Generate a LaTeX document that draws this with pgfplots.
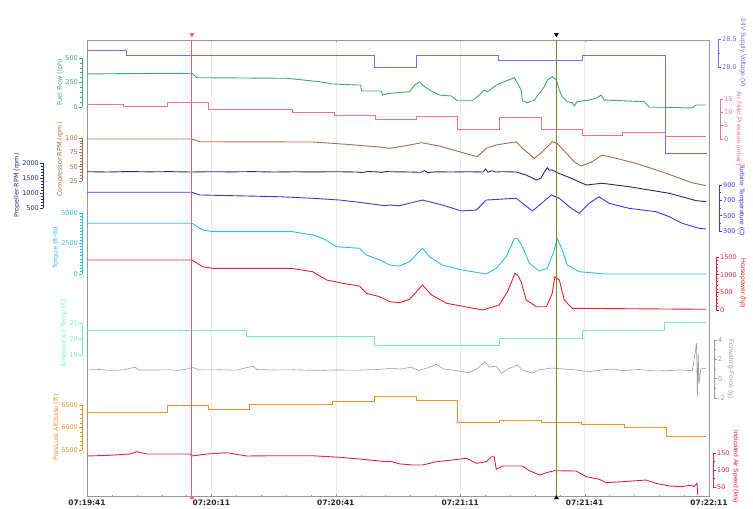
\documentclass[border=0pt]{standalone}
\usepackage{fontspec}
\setmainfont{DejaVu Sans}
\newfontfamily\narrowfam{Liberation Sans}
\usepackage{pgfplots}
\pgfplotsset{compat=1.18}
\definecolor{cVolt}{RGB}{120,105,230}
\definecolor{cFuel}{RGB}{60,170,110}
\definecolor{cAirF}{RGB}{240,110,160}
\definecolor{cComp}{RGB}{170,105,75}
\definecolor{cProp}{RGB}{40,40,120}
\definecolor{cTurb}{RGB}{70,50,220}
\definecolor{cTorq}{RGB}{40,190,230}
\definecolor{cHP}{RGB}{235,30,50}
\definecolor{cAmb}{RGB}{120,235,205}
\definecolor{cG}{RGB}{155,155,155}
\definecolor{cPA}{RGB}{245,140,30}
\definecolor{cIAS}{RGB}{230,30,70}
\definecolor{cCurR}{RGB}{240,90,120}
\definecolor{cCurG}{RGB}{130,130,40}
\definecolor{cFrame}{RGB}{150,150,150}
\newcommand{\lblfont}{\fontsize{6.4}{7}\selectfont}
\newcommand{\rlblfont}{\narrowfam\fontsize{6.6}{7}\selectfont}
\pgfplotsset{
  dax/.style 2 args={at={(87pt,-#1pt)}, anchor=south west, scale only axis,
    width=622pt, height=#2pt, xmin=0, xmax=150, hide axis, clip=false},
  spbase/.style={scale only axis, width=4pt, xmin=0, xmax=1, axis x line=none,
    tick align=outside, major tick length=3pt, minor tick length=1.6pt,
    scaled y ticks=false, /pgf/number format/assume math mode=true,
    /pgf/number format/1000 sep={},
    tick label style={font=\fontsize{6.5}{7}\selectfont, inner sep=1pt},
    minor y tick num=4},
  ccol/.style={axis line style={-,#1}, tick style={#1, line width=0.5pt},
    tick label style={text=#1}, ylabel style={text=#1}},
  lsp/.style n args={3}{spbase, at={(#1pt,-#2pt)}, anchor=south west,
    height=#3pt, axis y line=left, tick align=outside,
    ylabel style={font=\lblfont, inner sep=1pt}},
  rsp/.style n args={3}{spbase, at={(#1pt,-#2pt)}, anchor=south east,
    height=#3pt, axis y line=right, tick align=outside,
    ylabel style={rotate=180, anchor=south, font=\rlblfont, inner sep=1.8pt}},
  lpos/.style={ylabel style={at={(ticklabel cs:#1)}}},
}
\begin{document}
\begin{tikzpicture}
\useasboundingbox (0,0) rectangle (753pt,-509pt);
% frame
\begin{axis}[at={(87pt,-496pt)}, anchor=south west, scale only axis,
  width=622pt, height=456pt, xmin=0, xmax=150, ymin=0, ymax=1,
  ytick=\empty, xtick={0,30,...,150},
  xticklabels={07:19:41,07:20:11,07:20:41,07:21:11,07:21:41,07:22:11},
  minor x tick num=4, major tick length=2pt, minor tick length=1.2pt,
  axis line style={cFrame}, tick style={cFrame},
  xmajorgrids, major grid style={black!8},
  xticklabel style={font=\bfseries\fontsize{7.5}{9}\selectfont, text=black!85}]
\end{axis}
% ---------- data ----------
\begin{axis}[dax={67}{28}, ymin=28.0, ymax=28.5]
\addplot[cVolt, const plot, line width=0.9pt] coordinates {(0,28.29) (9.4,28.20) (69.3,28.0) (79.5,28.20) (99.2,28.11) (119.4,28.20) (139.4,26.45) (149.5,26.45)};
\end{axis}
\begin{axis}[dax={107}{49}, ymin=0, ymax=500]
\addplot[cFuel, line width=0.9pt] coordinates {(0,337) (12,342) (25.3,344) (26.5,299) (48.2,293) (56.1,258) (59.2,235) (65.3,224) (66.0,224) (66.2,163) (71.0,163) (71.3,122) (73.0,140) (77.8,156) (79.0,224) (80.2,258) (81.4,207) (83.3,156) (85.0,122) (87.9,112) (89.3,64) (92.9,64) (94.6,122) (95.8,173) (96.6,156) (98.7,224) (100.6,258) (103.1,299) (103.8,242) (104.7,173) (105.0,64) (106.2,44) (107.9,71) (109.1,140) (110.3,207) (111.0,275) (112.2,309) (113.2,275) (113.9,173) (114.6,105) (115.8,54) (117.0,44) (117.5,10) (118.2,54) (121.1,71) (122.8,89) (124.0,122) (124.7,71) (129.1,64) (133.2,56) (134.4,54) (135.1,20) (135.6,-3) (139.7,-3) (145.9,-10) (146.9,20) (149.3,20)};
\end{axis}
\begin{axis}[dax={139}{40}, ymin=0, ymax=15]
\addplot[cAirF, const plot, line width=0.9pt] coordinates {(0,13.1) (8.7,12.1) (19.3,13.8) (29.4,11.2) (49.6,10.0) (59.7,9.0) (69.6,7.4) (79.5,8.6) (89.3,3.4) (99.4,8.0) (109.6,3.7) (119.4,1.5) (129.1,2.4) (139.4,1.1) (149.3,1.1)};
\end{axis}
\begin{axis}[dax={181}{43}, ymin=25, ymax=100]
\addplot[cComp, line width=0.9pt] coordinates {(0,98.3) (25.3,98.3) (27.2,93.5) (54.4,93.0) (62.6,89.0) (66.5,86.6) (71.3,83.8) (73.0,82.0) (77.8,87.8) (80.7,91.8) (85.0,86.0) (89.8,76.1) (94.1,67.4) (96.3,82.0) (98.7,87.8) (103.5,93.5) (105.0,82.0) (107.9,64.6) (109.8,76.1) (112.2,93.5) (113.4,90.7) (115.6,73.3) (117.5,58.6) (119.2,51.1) (121.8,58.6) (124.2,70.3) (127.6,64.6) (132.4,55.8) (139.7,38.4) (145.9,22.0) (149.3,16.8)};
\end{axis}
\begin{axis}[dax={208}{45}, ymin=500, ymax=2000]
\addplot[cProp, line width=0.9pt] coordinates {(0,1710) (5,1700) (10,1715) (15,1705) (20,1712) (25,1700) (30,1710) (35,1705) (40,1712) (45,1700) (50,1708) (55,1703) (60,1710) (65,1700) (66.5,1680) (67.5,1715) (70,1705) (71.0,1685) (72.0,1712) (75,1705) (78,1700) (80.5,1690) (81.4,1745) (82.2,1680) (84,1705) (88,1700) (92,1710) (95.5,1700) (96.1,1800) (96.7,1690) (97.6,1740) (98.6,1700) (100,1710) (103.5,1700) (105.9,1600) (108.4,1434) (109.5,1500) (110.3,1700) (111.0,1843) (111.5,1760) (112.2,1767) (113.4,1677) (116.8,1490) (120.4,1267) (124.2,1324) (130.7,1211) (140.4,991) (146.9,745) (149.3,711)};
\end{axis}
\begin{axis}[dax={231}{46}, ymin=300, ymax=900]
\addplot[cTurb, line width=0.9pt] coordinates {(0,805) (25.3,805) (27.2,770) (46.5,747) (54.4,727) (60.9,704) (66.5,669) (71.8,630) (73.0,639) (75.4,630) (80.9,704) (85.7,639) (90.3,561) (93.9,574) (96.3,704) (103.5,727) (107.4,561) (109.6,661) (112.0,770) (113.9,727) (116.8,596) (118.7,531) (121.1,661) (123.5,747) (125.9,661) (130.7,596) (137.2,552) (140.4,487) (143.5,401) (147.6,335) (149.3,326)};
\end{axis}
\begin{axis}[dax={274}{61}, ymin=0, ymax=5000]
\addplot[cTorq, line width=0.9pt] coordinates {(0,4157) (25.3,4157) (27.9,3608) (30.3,3469) (49.6,3469) (54.4,3198) (56.8,2927) (60.2,2239) (65.7,2107) (67.4,1558) (70.6,1148) (73.0,738) (75.4,656) (77.8,1009) (80.9,2107) (82.6,1419) (85.7,738) (90.5,328) (96.3,0) (98.7,467) (101.1,1419) (103.1,2927) (103.8,2927) (105.0,2239) (106.7,877) (109.1,246) (111.0,467) (112.7,1968) (113.4,2927) (114.6,1968) (115.8,738) (118.7,189) (125.2,0) (149.3,0)};
\end{axis}
\begin{axis}[dax={310}{53}, ymin=0, ymax=1500]
\addplot[cHP, line width=0.9pt] coordinates {(0,1415) (25.3,1415) (27.9,1225) (30.3,1180) (49.2,1180) (54.4,1084) (57.8,849) (62.6,736) (65.7,679) (67.4,473) (70.6,376) (73.0,235) (75.4,207) (77.8,303) (80.9,708) (83.1,425) (86.7,190) (95.4,0) (99.4,142) (101.4,518) (102.4,800) (103.2,1039) (103.8,1000) (104.7,801) (105.9,283) (108.4,93) (110.8,93) (112.2,473) (112.8,942) (113.5,880) (113.9,849) (115.1,283) (117.0,48) (149.3,20)};
\end{axis}
\begin{axis}[dax={355}{32}, ymin=19, ymax=21]
\addplot[cAmb, const plot, line width=0.9pt] coordinates {(0,20.56) (38.5,20.14) (69.3,19.58) (99.4,20.04) (119.4,20.52) (139.2,21.02) (149.3,21.02)};
\end{axis}
\begin{axis}[dax={398}{58}, ymin=-2, ymax=4]
\addplot[cG, line width=0.6pt] coordinates {(0,0.9) (3,0.95) (6,0.85) (9,0.92) (11.6,1.2) (12.5,0.9) (17,0.9) (20,0.92) (22,0.85) (24.8,1.05) (25.3,1.2) (27,0.9) (32,0.92) (36,0.88) (40.0,1.3) (41,0.95) (45,0.9) (50,0.92) (55,0.85) (60,0.9) (65,0.88) (70,0.95) (73,1.05) (76,1.0) (78,1.2) (80,0.85) (82,1.1) (84.3,1.49) (86,1.0) (88,0.9) (92,0.62) (94,1.0) (96,1.76) (97,1.2) (98.7,1.3) (100,0.56) (101.5,1.0) (103.8,1.42) (105,0.9) (107.4,0.56) (109,0.9) (112,1.1) (115,1.0) (118,0.9) (121,0.72) (124,0.9) (127,1.0) (129,0.83) (133,0.95) (137,0.8) (140,0.83) (143,0.9) (146,0.83) (147.0,3.66) (147.2,-1.86) (147.4,2.5) (147.6,-0.5) (148,1.0) (149.3,1.08)};
\end{axis}
\begin{axis}[dax={450}{45}, ymin=5500, ymax=6500]
\addplot[cPA, const plot, line width=0.9pt] coordinates {(0,6338) (19.3,6484) (29.4,6411) (39.2,6516) (59.2,6589) (69.3,6684) (79.5,6611) (89.3,6107) (99.4,6151) (109.6,6107) (119.2,6072) (129.5,5996) (139.7,5796) (149.3,5796)};
\end{axis}
\begin{axis}[dax={487}{34}, ymin=50, ymax=150]
\addplot[cIAS, line width=0.9pt] coordinates {(0,141.2) (5,143) (10.4,147.1) (12.0,153.8) (14.4,147.1) (24.8,147.1) (25.3,141.2) (28.9,147.1) (33.7,150.9) (38.5,141.2) (45,142) (54.4,142) (60.9,137.4) (66.5,131.5) (72.2,124.4) (73.0,126) (75.4,118) (78.5,114.7) (80.9,114.7) (84.3,124.4) (88.1,129.4) (91.5,134.4) (93.9,119.7) (96.3,124.4) (97.5,139.1) (98.2,139.1) (98.7,102.1) (100.2,111.8) (105.0,111.8) (106.7,98.0) (109.1,85.3) (110.8,92.1) (112.7,98.0) (118.0,97) (120.4,80.3) (123.5,72.7) (125.2,62.7) (129.1,65.6) (134.8,70.6) (137.2,60.9) (140.4,53.0) (143.5,50.9) (145.2,55) (146.4,52) (147.1,60.9) (147.3,26.5)};
\end{axis}
% ---------- left spines ----------
\begin{axis}[lsp={82}{107}{49}, ccol=cFuel, ymin=0, ymax=500, ytick={0,250,500}, ylabel={Fuel Flow (lph)}]\end{axis}
\begin{axis}[lsp={82}{181}{43}, ccol=cComp, ymin=25, ymax=100, ytick={25,50,75,100}, ylabel={Compressor RPM (rpm)}]\end{axis}
\begin{axis}[lsp={43}{208}{45}, ccol=cProp, ymin=500, ymax=2000, ytick={500,1000,1500,2000}, ylabel={Propeller RPM (rpm)}]\end{axis}
\begin{axis}[lsp={82}{274}{61}, ccol=cTorq, ymin=0, ymax=5000, ytick={0,2500,5000}, minor y tick num=9, ylabel={Torque (ft-lb)}, lpos=0.43]\end{axis}
\begin{axis}[lsp={82}{355}{32}, ccol=cAmb, ymin=19, ymax=21, ytick={19,20,21}, minor y tick num=0, ylabel={Ambient Air Temp (C)}, lpos=0.69]\end{axis}
\begin{axis}[lsp={82}{450}{45}, ccol=cPA, ymin=5500, ymax=6500, ytick={5500,6000,6500}, ylabel={Pressure Altitude (ft)}]\end{axis}
% ---------- right spines ----------
\begin{axis}[rsp={718}{67}{28}, ccol=cVolt, ymin=28, ymax=28.5, ytick={28,28.5}, minor y tick num=1, yticklabel style={/pgf/number format/.cd, fixed, fixed zerofill, precision=1}, ylabel={24V Supply Voltage (V)}, lpos=0.5]\end{axis}
\begin{axis}[rsp={720}{139}{40}, ccol=cAirF, ymin=0, ymax=15, ytick={0,5,10,15}, minor y tick num=0, ylabel={Air Filter Pressure (mbar)}, lpos=0.27]\end{axis}
\begin{axis}[rsp={719}{231}{46}, ccol=cTurb, ymin=300, ymax=900, ytick={300,500,700,900}, minor y tick num=1, ylabel={Turbine Temperature (C)}, lpos=0.67]\end{axis}
\begin{axis}[rsp={716}{310}{53}, ccol=cHP, ymin=0, ymax=1500, ytick={0,500,1000,1500}, ylabel={Horsepower (hp)}]\end{axis}
\begin{axis}[rsp={714}{398}{58}, ccol=cG, ymin=-2, ymax=4, ytick={-2,0,2,4}, minor y tick num=1, ylabel={Forward g-Force (g)}]\end{axis}
\begin{axis}[rsp={713}{487}{34}, ccol=cIAS, ymin=50, ymax=150, ytick={50,100,150}, minor y tick num=1, ylabel={Indicated Air Speed (kts)}, lpos=0.6]\end{axis}
% ---------- cursors ----------
\begin{axis}[at={(87pt,-496pt)}, anchor=south west, scale only axis,
  width=622pt, height=456pt, xmin=0, xmax=150, ymin=0, ymax=1, hide axis, clip=false]
\addplot[cCurR, line width=0.9pt] coordinates {(25.3,0) (25.3,1)};
\addplot[cCurG, line width=1.1pt] coordinates {(113.2,0) (113.2,1)};
\addplot[only marks, mark=triangle*, mark size=2.3pt, color=cCurR, mark options={rotate=180}] coordinates {(25.3,1.012)};
\addplot[only marks, mark=triangle*, mark size=2.3pt, color=cCurR] coordinates {(25.3,-0.004)};
\addplot[only marks, mark=triangle*, mark size=2.3pt, color=black, mark options={rotate=180}] coordinates {(113.2,1.012)};
\addplot[only marks, mark=triangle*, mark size=2.3pt, color=black] coordinates {(113.2,-0.004)};
\end{axis}
\end{tikzpicture}
\end{document}
